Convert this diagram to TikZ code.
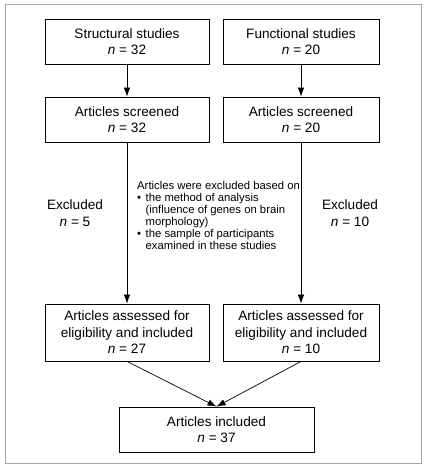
\documentclass[tikz,border=0pt]{standalone}
\usepackage{fontspec}
\setmainfont{Liberation Sans}
\usetikzlibrary{arrows.meta}

\begin{document}
\begin{tikzpicture}[x=1pt, y=-1pt,
    box/.style = {draw, line width=0.8pt, align=center, inner sep=0pt,
                  font=\fontsize{13.6}{16.5}\selectfont},
    note/.style = {align=center, font=\fontsize{13.6}{16.5}\selectfont},
    arr/.style = {-{Latex[length=9pt,width=6.5pt]}, line width=0.7pt}]

            \useasboundingbox (0,0) rectangle (426,468);
            \draw [black!35, line width=0.8pt] (5,4.5) rectangle (421,463);

            \node [box, minimum width=164pt, minimum height=45pt] (struct) at (127,41.5) {Structural studies\\\textit{n} = 32};
            \node [box, minimum width=156pt, minimum height=45pt] (func) at (301,41.5) {Functional studies\\\textit{n} = 20};
            \node [box, minimum width=164pt, minimum height=45pt] (sscr) at (127,119.5) {Articles screened\\\textit{n} = 32};
            \node [box, minimum width=156pt, minimum height=45pt] (fscr) at (301,119.5) {Articles screened\\\textit{n} = 20};
            \node [box, minimum width=164pt, minimum height=57pt] (sass) at (127,332.5) {Articles assessed for\\eligibility and included\\\textit{n} = 27};
            \node [box, minimum width=156pt, minimum height=57pt] (fass) at (301,332.5) {Articles assessed for\\eligibility and included\\\textit{n} = 10};
            \node [box, minimum width=195pt, minimum height=45pt] (incl) at (216.5,429.5) {Articles included\\\textit{n} = 37};

            \node [note] (sexc) at (75,213) {Excluded\\\textit{n} = 5};
            \node [note] (fexc) at (350,213) {Excluded\\\textit{n} = 10};

            % reasons for exclusion
            \node [anchor=west, inner sep=0pt, font=\fontsize{11.3}{12.1}\selectfont] (why) at (137,217) {%
              \begin{tabular}{@{}l@{\hspace{4.5pt}}l@{}}
                \multicolumn{2}{@{}l@{}}{Articles were excluded based on}\\
                \textbullet & the method of analysis\\
                            & (influence of genes on brain\\
                            & morphology)\\
                \textbullet & the sample of participants\\
                            & examined in these studies
              \end{tabular}};

            \foreach \a/\b in {struct/sscr, func/fscr, sscr/sass, fscr/fass, sass/incl, fass/incl} {
              \draw [arr] (\a.south) -- (\b.north);
            }
\end{tikzpicture}
\end{document}
